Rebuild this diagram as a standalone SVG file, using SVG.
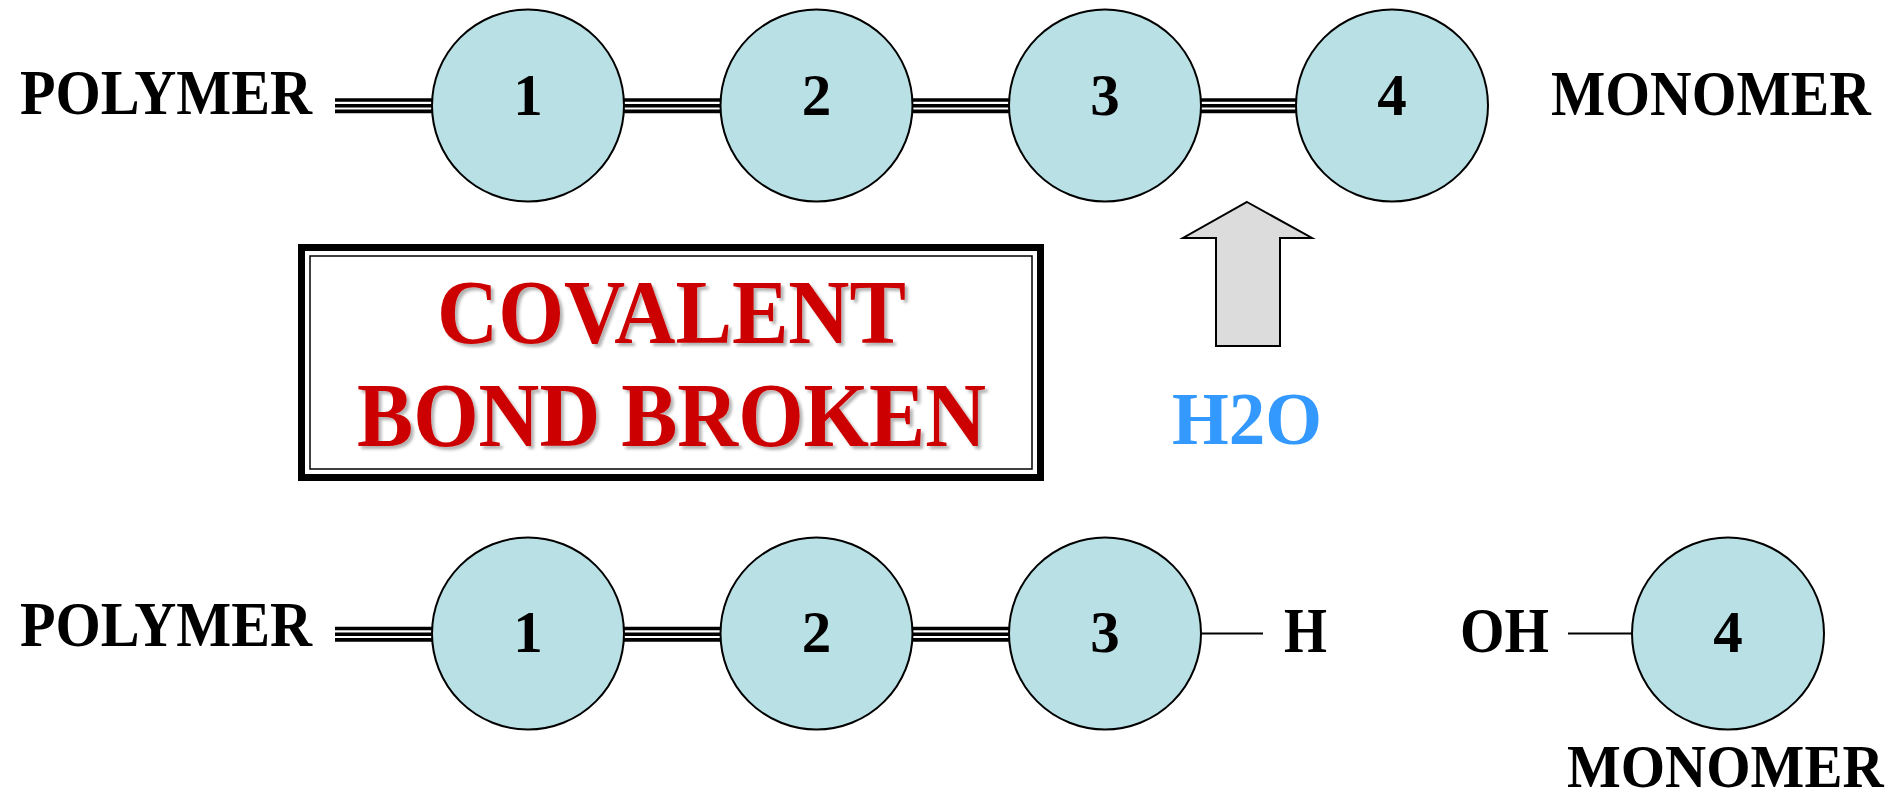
<svg xmlns="http://www.w3.org/2000/svg" width="1895" height="800" viewBox="0 0 1895 800">
<style>
.lbl{font-family:"Liberation Serif","Times New Roman",serif;font-weight:bold;fill:#000;font-size:63px}
.mono{font-family:"Liberation Serif","Times New Roman",serif;font-weight:bold;fill:#000;font-size:57px}
.num{font-family:"Liberation Serif","Times New Roman",serif;font-weight:bold;fill:#000;font-size:59px;text-anchor:middle}
.atom{fill:#b9e0e4;stroke:#000;stroke-width:2}
.bt{stroke:#000;stroke-width:3.6;fill:none}
.single{stroke:#000;stroke-width:2}
.red{font-family:"Liberation Serif","Times New Roman",serif;font-weight:bold;fill:#cc0000;font-size:91px}
</style>
<defs>
<filter id="sh" x="-5%" y="-10%" width="110%" height="130%">
<feDropShadow dx="3" dy="3" stdDeviation="1.5" flood-color="#000" flood-opacity="0.3"/>
</filter>
</defs>
<g id="connectors">
<g id="top-bonds">
<path class="bt" d="M335 100H432M624 100H721M913 100H1009M1201 100H1296M335 105.7H432M624 105.7H721M913 105.7H1009M1201 105.7H1296M335 111.4H432M624 111.4H721M913 111.4H1009M1201 111.4H1296"/>
</g>
<g id="bottom-bonds">
<path class="bt" d="M335 628.5H432M624 628.5H721M913 628.5H1009M335 634.2H432M624 634.2H721M913 634.2H1009M335 639.9H432M624 639.9H721M913 639.9H1009"/>
</g>
<path class="single" d="M1201 633.5H1263M1568 633.5H1632"/>
</g>
<g id="polymer-top"><text class="lbl" x="20" y="114" textLength="292" lengthAdjust="spacingAndGlyphs">POLYMER</text></g>
<g id="monomer-top"><text class="mono" transform="translate(1551 115) scale(1.01 1.1)" x="0" y="0">MONOMER</text></g>
<g id="t1"><circle class="atom" cx="528" cy="105.5" r="96"/><text class="num" x="528" y="115">1</text></g>
<g id="t2"><circle class="atom" cx="816.5" cy="105.5" r="96"/><text class="num" x="816.5" y="115">2</text></g>
<g id="t3"><circle class="atom" cx="1105" cy="105.5" r="96"/><text class="num" x="1105" y="115">3</text></g>
<g id="t4"><circle class="atom" cx="1392" cy="105.5" r="96"/><text class="num" x="1392" y="115">4</text></g>
<g id="arrow"><path d="M1247 202L1312 238H1280V346H1216V238H1183Z" fill="#dcdcdc" stroke="#000" stroke-width="2"/></g>
<g id="h2o"><text x="1172" y="444" font-family="Liberation Serif,serif" font-weight="bold" font-size="74" fill="#3399ff" textLength="150" lengthAdjust="spacingAndGlyphs">H2O</text></g>
<g id="box">
<rect x="301.5" y="247.5" width="739" height="230" fill="#fff" stroke="#000" stroke-width="7"/>
<rect x="310" y="256" width="722" height="213" fill="none" stroke="#000" stroke-width="1.5"/>
<g filter="url(#sh)">
<text class="red" x="437" y="343" textLength="469" lengthAdjust="spacingAndGlyphs">COVALENT</text>
<text class="red" x="357" y="446" textLength="629" lengthAdjust="spacingAndGlyphs">BOND BROKEN</text>
</g>
</g>
<g id="polymer-bottom"><text class="lbl" x="20" y="646" textLength="292" lengthAdjust="spacingAndGlyphs">POLYMER</text></g>
<g id="b1"><circle class="atom" cx="528" cy="633.5" r="96"/><text class="num" x="528" y="652">1</text></g>
<g id="b2"><circle class="atom" cx="816.5" cy="633.5" r="96"/><text class="num" x="816.5" y="652">2</text></g>
<g id="b3"><circle class="atom" cx="1105" cy="633.5" r="96"/><text class="num" x="1105" y="652">3</text></g>
<g id="h"><text class="lbl" x="1284" y="652" textLength="43" lengthAdjust="spacingAndGlyphs">H</text></g>
<g id="oh"><text class="lbl" x="1460" y="652" textLength="89" lengthAdjust="spacingAndGlyphs">OH</text></g>
<g id="b4"><circle class="atom" cx="1728" cy="633.5" r="96"/><text class="num" x="1728" y="652">4</text></g>
<g id="monomer-bottom"><text class="mono" transform="translate(1567 787) scale(1 1.07)" x="0" y="0">MONOMER</text></g>
</svg>
